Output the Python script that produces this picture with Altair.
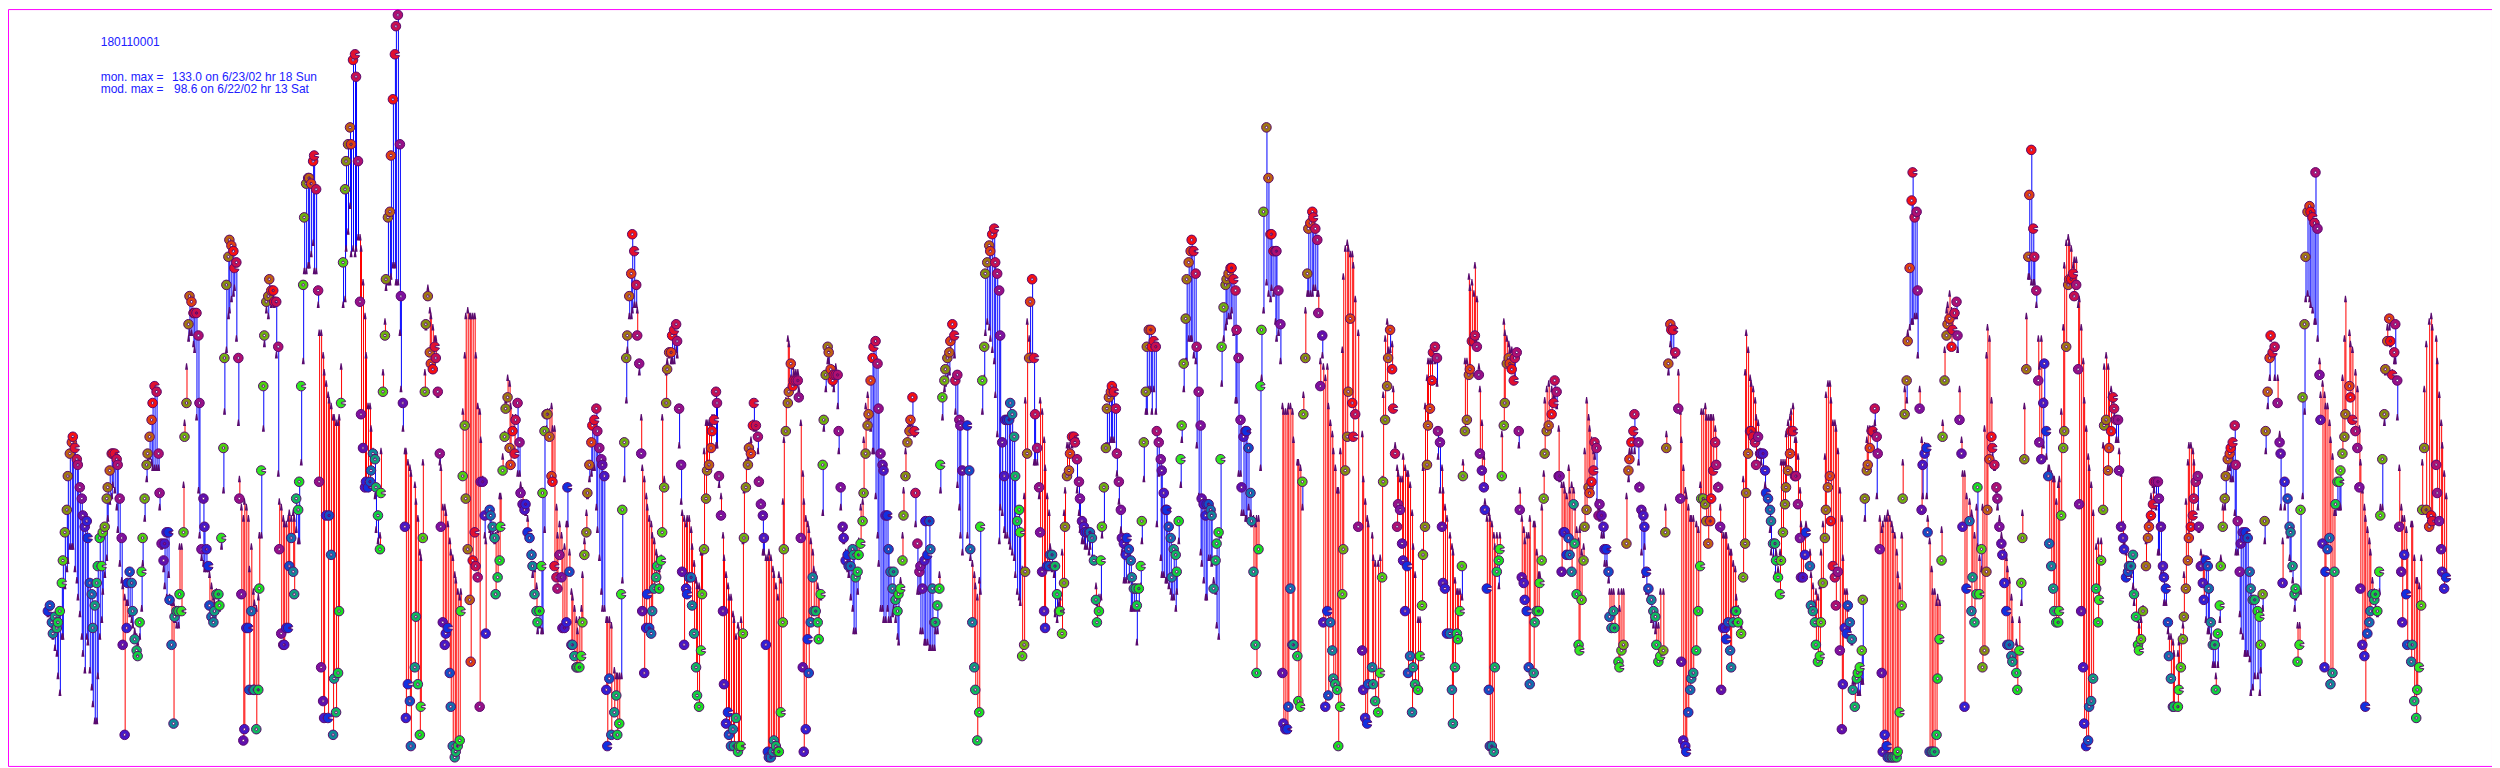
import altair as alt
import pandas as pd

N = None
monitor_by_day = [
[27,28,25,23,26,24,25,27,32,36,41,45,51,55,57,58,56,54,53,49,47,44,42,43],
[40,32,30,24,28,32,35,40,35,41,42,47,49,52,55,55,55,54,53,47,40,21,5,24],
[32,34,32,27,22,20,19,25,34,40,47,53,55,58,61,64,67,66,55,48,39,36,39,41],
[41,29,21,7,26,27,27,30,27,41,58,64,78,83,82,80,80,80,76,64,38,47,42,38],
[35,28,26,25,27,30,30,28,40,56,72,85,90,93,92,91,88,89,72,47,30,4,6,24],
[24,13,27,13,13,6,13,31,52,67,76,82,83,86,84,84,82,82,74,38,23,21,21,24],
[24,35,40,34,30,47,45,50,67,85,97,103,104,104,103,107,108,102,84,50,17,11,8,44],
[8,44,37,5,15,9,16,27,64,89,102,107,110,113,110,125,126,122,107,82,62,56,49,50],
[49,50,52,55,54,49,44,38,48,66,76,86,97,98,108,118,126,131,133,110,83,64,42,8],
[14,11,3,N,17,26,14,5,10,40,66,78,83,73,71,70,74,72,66,55,42,25,21,23],
[24,16,10,3,1,2,3,4,27,51,60,47,38,29,18,36,41,35,33,10,50,50,44,23],
[N,45,44,42,40,30,33,36,42,52,58,63,65,56,53,59,55,61,64,57,48,46,45,46],
[41,40,37,35,30,27,25,27,35,48,59,62,62,58,51,50,35,33,31,37,33,24,24,25],
[49,34,21,21,19,17,17,17,19,25,37,41,48,53,57,60,61,63,59,56,54,53,51,13],
[3,15,5,N,9,12,5,7,30,45,57,72,76,83,87,94,91,85,76,71,55,27,16,24],
[30,24,23,27,31,33,35,31,36,41,49,64,70,73,73,76,77,78,75,63,53,34,21,31],
[30,33,33,28,23,17,12,10,20,30,38,47,52,53,56,59,61,66,64,51,44,27,14,7],
[9,5,3,6,3,8,2,3,3,23,40,49,53,56,55,60,64,60,58,50,46,44,40,21],
[2,1,1,2,4,3,2,2,9,25,38,59,64,66,71,67,68,68,68,65,40,17,2,6],
[22,16,25,33,27,27,25,22,30,53,61,69,74,73,70,68,69,69,69,59,49,42,40,36],
[37,35,35,38,37,33,34,37,39,43,48,55,60,62,68,72,74,75,71,63,55,53,52,44],
[44,38,34,31,34,29,27,30,31,36,44,51,57,59,61,65,59,48,39,34,35,31,36,43],
[37,43,38,31,25,25,28,31,53,65,68,70,72,73,75,78,76,68,69,61,60,52,N,N],
[60,52,38,25,17,13,4,9,42,68,74,87,89,92,91,94,95,89,87,84,76,57,51,61],
[61,61,64,62,58,51,43,45,41,19,21,34,55,72,82,86,72,62,56,49,41,34,27,24],
[35,35,37,37,35,35,30,27,27,23,32,42,51,52,55,58,58,57,54,50,47,43,42,41],
[41,41,41,40,36,29,25,27,36,42,49,56,63,65,66,67,66,63,55,50,45,40,39,37],
[40,38,36,33,31,31,28,31,35,43,57,66,74,77,77,74,75,74,59,57,54,52,48,45],
[45,42,40,33,38,37,34,43,54,60,71,79,86,89,91,93,91,87,74,66,60,47,46,44],
[46,46,45,44,31,36,39,41,54,74,81,85,86,87,88,88,86,84,77,72,61,49,58,59],
[59,56,48,43,34,21,16,38,67,77,98,N,113,104,94,94,91,91,91,84,78,16,7,6],
[6,10,31,21,21,N,19,11,10,50,62,72,87,95,96,98,97,95,93,80,67,76,25,10],
[27,12,25,20,15,14,13,3,10,30,38,52,58,66,79,64,58,62,N,42,N,20,13,8],
[7,14,N,17,14,11,N,9,16,33,50,61,67,72,77,70,63,55,42,46,45,39,36,27],
[35,16,19,9,17,14,N,13,19,28,37,42,53,60,63,68,73,74,72,59,57,42,32,31],
[23,N,23,13,7,17,23,22,27,35,51,59,61,69,70,75,75,76,74,69,55,52,49,45],
[31,13,3,3,2,17,34,36,38,51,60,64,71,72,71,70,68,72,73,59,45,33,32,29],
[27,17,14,N,16,25,27,27,32,36,47,55,59,60,N,62,64,68,66,51,51,34,41,41],
[37,40,37,34,46,39,30,21,20,29,36,42,45,49,48,50,52,57,56,44,46,44,42,38],
[38,34,26,24,27,24,N,18,17,20,21,N,39,52,54,57,59,62,N,57,49,45,44,42],
[34,31,N,29,27,26,21,18,19,N,20,41,56,71,78,77,77,73,N,63,47,18,4,3],
[2,9,13,15,16,N,20,27,35,47,47,46,43,39,43,47,52,57,53,49,42,13,24,24],
[22,25,20,17,25,27,27,25,N,23,33,39,48,55,59,59,58,57,53,58,55,55,55,52],
[48,47,45,43,39,39,36,33,30,36,41,46,49,52,55,59,59,51,51,46,40,33,33,37],
[41,N,35,28,27,25,21,18,19,25,32,40,45,49,51,43,35,33,28,34,20,6,14,24],
[23,28,25,22,13,10,15,16,17,20,29,47,52,53,56,59,59,63,58,55,38,16,2,5],
[3,1,1,1,1,1,1,2,9,28,47,62,68,75,88,100,105,97,98,84,63,45,53,55],
[56,41,2,2,2,2,5,15,22,36,58,68,76,78,79,74,77,80,82,76,61,55,42,10],
[31,N,43,27,33,25,30,49,30,38,17,20,34,45,54,58,56,53,49,47,42,39,37,32],
[27,21,21,19,18,N,16,13,20,32,40,54,70,90,101,109,95,90,84,68,57,54,64,71],
[59,51,39,35,31,27,25,25,27,44,56,59,74,85,86,86,87,83,85,70,46,27,17,7],
[3,4,10,11,15,N,31,25,29,36,45,60,61,52,56,59,65,63,61,61,52,42,40,38],
[33,34,35,35,37,30,26,21,20,22,27,N,35,40,42,44,46,50,50,50,47,42,35,33],
[31,25,19,15,10,10,N,10,13,17,22,26,31,36,40,42,44,47,50,51,42,35,32,29],
[36,35,31,25,21,21,13,23,28,35,42,47,51,54,55,56,57,60,53,43,34,39,41,40],
[41,40,34,31,29,29,N,27,26,21,30,43,59,66,72,76,73,74,N,64,57,55,32,50],
[N,47,42,41,35,30,31,18,21,45,65,78,90,98,99,98,97,96,105,95,69,61,39,17],
[34,38,40,14,16,34,46,50,50,52,55,58,62,N,67,65,61,N,59,56,49,31,21,19],
[10,23,25,27,30,29,30,27,34,44,54,62,70,75,79,75,69,73,78,68,42,34,25,37],
[30,21,N,18,21,11,8,13,17,28,45,56,45,N,42,44,43,N,53,48,43,38,34,31],
[33],
]
model_by_day = [
[26,27,24,22,20,19,15,12,22,22,31,34,35.5,38,38,38,34,32,29,26,22,19,16,22],
[21,16,13,10,7,7,15,22,25,30,33,36,43,46,47,49,48,45,41,35,32,31,29,28],
[28,26,25,24,23,22,21,22,27,35,43,50,53,54,53,52,52,52,52,45,38,34,31,29],
[33,29,28,28,25,24,24,38,38,49,60,70,75,76,76,74,73,61,48,40,36,35,34,34],
[34,33,31,29,28,30,28,27,38,48,62,73,79,80,82,83,84,75,60,50,45,43,46,45],
[43,34,38,30,28,27,29,40,40,59,74,80,79,82,81,82,81,72,51,46,45,43,42,42],
[43,44,43,44,43,41,39,39,53,71,87,87,88,88,90,92,87,87,81,76,76,72,69,67],
[65,64,63,61,61,60,60,61,70,81,82,91,94,98.6,90,91,90,91,93,93,91,85,79,72],
[63,63,59,55,47,41,39,40,55,69,78,84,85,85,86,88,88,85,85,76,66,59,55,55],
[53,52,51,N,49,46,43,37,36,53,69,77,84,80,79,77,75,75,65,53,52,45,45,44],
[42,39,37,36,33,32,30,29,30,62,72,79,80,79,79,79,79,72,63,62,57,50,40,39],
[N,41,40,40,39,40,41,47,47,54,58,64,68,67,63,61,59,61,51,51,49,48,45,44],
[43,40,37,33,34,31,23,24,23,23,41,59,62,62,63,59,59,45,40,42,40,37,38,42],
[42,37,30,29,27,25,23,25,27,33,39,44,47,50,51,52,52,45,41,36,30,27,27,25],
[25,25,24,N,16,15,15,15,15,32,50,64,73,79,79,80,81,81,80,69,61,52,50,47],
[45,43,42,40,39,37,36,34,36,61,50,69,71,72,71,71,71,73,72,56,46,44,43,42],
[43,43,41,38,35,32,31,31,37,37,55,60,60,60,60,61,61,56,56,49,47,40,36,33],
[31,29,29,26,25,22,24,23,25,39,48,53,54,56,57,60,59,59,55,50,46,37,37,36],
[36,37,36,34,33,31,29,33,32,46,57,64,75,74,68,70,69,69,69,66,60,51,46,43],
[42,41,39,37,34,33,31,30,29,44,59,66,71,71,68,67,66,70,63,55,45,40,39,37],
[34,33,29,27,23,23,30,39,45,46,57,63,65,61,59,55,55,47,40,35,27,27,25,25],
[27,25,25,26,27,25,22,21,32,40,48,55,59,60,60,59,58,42,30,30,23,23,21,21],
[21,20,20,20,20,23,23,33,48,61,66,67,68,69,73,76,72,62,49,45,40,37,N,N],
[40,38,36,35,33,31,29,32,30,62,68,76,78,77,75,73,71,65,58,39,45,44,41,40],
[40,39,38,37,36,33,30,29,28,34,47,64,78,75,72,72,53,53,53,47,64,62,57,52],
[47,44,38,34,33,26,25,28,29,37,44,48,56,56,55,56,57,57,48,44,41,39,39,38],
[38,37,38,36,36,31,28,29,29,40,42,56,56,56,57,57,57,55,51,46,41,37,32,32],
[37,32,27,27,27,27,21,27,31,39,50,62,62,66,66,62,66,62,42,51,36,33,33,32],
[32,31,30,29,29,27,30,39,49,57,66,71,71,75,75,75,72,71,56,47,37,35,32,29],
[29,36,36,35,32,30,24,22,40,67,75,77,78,79,79,80,76,64,64,51,51,44,44,43],
[43,45,44,42,43,42,43,43,52,68,80,N,85,83,82,84,83,78,75,76,71,63,62,62],
[62,63,63,62,57,N,53,53,52,45,65,80,83,83,83,83,84,84,83,83,71,72,70,68],
[70,63,60,58,55,52,48,48,55,73,86,91,92,91,90,90,88,82,N,76,N,58,50,46],
[43,42,N,40,36,35,N,35,36,50,65,75,78,73,73,74,66,56,52,51,50,50,54,52],
[51,51,49,44,38,33,N,25,25,37,52,63,68,71,71,71,73,71,67,54,48,52,48,45],
[43,N,40,38,37,32,30,30,30,29,53,71,71,86,84,85,83,88,82,70,66,60,54,46],
[43,44,43,42,40,38,40,31,40,58,78,76,75,74,73,73,72,68,72,56,48,43,41,39],
[40,40,43,N,42,42,37,33,33,45,51,64,66,67,N,66,65,64,63,59,50,49,49,48],
[47,52,48,49,48,45,41,39,41,37,38,55,64,61,59,57,55,54,46,45,43,40,40,35],
[35,32,30,30,30,27,N,30,27,30,30,N,47,50,55,55,57,55,N,53,49,37,33,38],
[30,29,N,25,24,23,24,24,30,N,30,45,58,69,74,73,72,72,N,69,62,57,52,48],
[47,45,43,43,43,N,42,41,49,62,62,63,61,61,61,61,61,59,57,49,45,41,40,40],
[40,38,37,37,35,34,29,27,N,24,50,69,76,73,68,67,66,64,61,60,55,53,52,49],
[48,45,41,37,36,33,37,34,37,53,53,53,58,60,61,62,63,57,57,54,48,42,40,40],
[42,N,37,33,31,28,30,29,31,37,42,54,65,67,67,64,60,60,59,55,48,43,36,30],
[30,27,23,21,14,14,15,12,12,14,14,43,57,59,59,58,59,60,47,55,43,41,42,43],
[43,44,43,42,41,40,37,33,31,40,53,66,64,76,77,78,78,79,79,72,66,57,47,56],
[47,43,39,34,30,30,28,29,28,41,60,73,80,81,83,80,79,79,79,73,66,57,51,51],
[47,N,46,44,43,40,45,38,36,34,45,59,72,77,75,64,54,52,48,45,43,40,39,37],
[36,34,32,29,25,N,21,20,25,28,44,63,79,86,86,85,85,85,81,75,70,75,56,64],
[54,52,52,51,50,50,46,49,50,62,77,88,92,93,92,91,88,89,89,81,82,77,71,64],
[59,54,52,49,44,N,38,39,36,39,56,70,72,70,65,66,64,61,57,57,55,51,42,39],
[37,33,33,33,31,28,30,25,24,25,27,N,39,42,43,47,49,48,45,37,37,33,33,28],
[28,23,22,22,21,19,N,19,21,22,24,33,46,53,56,56,55,53,50,45,41,37,36,36],
[25,23,23,22,17,17,15,17,25,36,45,45,47,52,52,50,50,44,37,37,26,23,22,19],
[19,19,18,12,13,15,N,15,12,16,27,39,55,63,68,75,72,68,N,68,58,45,39,45],
[N,40,36,34,32,27,29,24,24,30,47,62,82,83,82,81,80,78,78,75,71,65,67,65],
[63,63,60,57,54,44,44,45,45,45,68,75,82,N,76,74,73,N,69,66,59,53,48,45],
[43,41,39,37,32,30,27,26,30,45,45,60,69,77,77,74,69,71,71,61,52,45,43,43],
[41,37,N,42,42,36,32,32,31,36,53,66,74,N,78,79,77,N,75,71,65,60,56,51],
[47],
]
hour_colors = ["#1030e0","#1050c8","#1070b0","#108898","#10a080","#10b860","#10d040","#18e020",
               "#30e820","#50d010","#70b010","#859010","#a07810","#c06010","#e04010","#f81010",
               "#e01030","#c81050","#b01070","#981088","#8010a0","#6010b0","#4818c8","#3020d8"]
title_lines = ["180110001"]
max_labels = ["mon. max =", "mod. max ="]
max_values = ["133.0 on 6/23/02 hr 18 Sun", "98.6 on 6/22/02 hr 13 Sat"]

rows = []
for d, (mon_day, mod_day) in enumerate(zip(monitor_by_day, model_by_day)):
    for h, (mon, mod) in enumerate(zip(mon_day, mod_day)):
        if mon is None:
            continue
        if mod is None:
            mod = mon
        rows.append({"i": 24 * d + h, "hour": h, "mon": mon, "mod": mod,
                     "notch": int(h % 8 == 0),
                     "dir": "over" if mod > mon else "under"})
df = pd.DataFrame(rows)

xscale = alt.Scale(domain=[-24.14, 1467.8], nice=False, zero=False, round=True)
yscale = alt.Scale(domain=[-0.53, 134.04], nice=False, zero=False)
x = alt.X("i:Q", axis=None, scale=xscale)
y = alt.Y("mon:Q", axis=None, scale=yscale)

DARK = "#5a0a6e"
DISC = "M1,0 A1,1 0 1,1 -1,0 A1,1 0 1,1 1,0 Z M0.26,0 A0.26,0.26 0 1,0 -0.26,0 A0.26,0.26 0 1,0 0.26,0 Z"
PAC = "M0.96,-0.28 A1,1 0 1,0 0.96,0.28 L0.1,0.14 L0.1,-0.14 Z"
TICK = "M-0.35,0.15 L0.4,0.15 L0.14,-1.5 L-0.12,-1.5 Z"

base = alt.Chart(df)
rules = base.mark_rule(strokeWidth=1, xOffset=0.5).encode(
    x=x, y=y, y2=alt.Y2("mod:Q"),
    color=alt.Color("dir:N", legend=None,
                    scale=alt.Scale(domain=["over", "under"], range=["#ff0000", "#0000ff"])),
)
ticks = base.mark_point(filled=True, shape=TICK, size=64, color=DARK, opacity=1, strokeWidth=0).encode(
    x=x, y=alt.Y("mod:Q", axis=None, scale=yscale),
)
under = base.mark_point(filled=True, shape="circle", size=70, color="white", opacity=1, strokeWidth=0).encode(x=x, y=y)
points = base.mark_point(filled=True, stroke=DARK, strokeWidth=1, size=92, opacity=1).encode(
    x=x, y=y,
    fill=alt.Fill("hour:O", legend=None,
                  scale=alt.Scale(domain=list(range(24)), range=hour_colors)),
    shape=alt.Shape("notch:O", legend=None, scale=alt.Scale(domain=[0, 1], range=[DISC, PAC])),
)

def label(text, px, py):
    return alt.Chart(pd.DataFrame({"t": [text]})).mark_text(
        font="Liberation Sans", fontSize=12, color="#2020ff", align="left", baseline="middle",
    ).encode(x=alt.value(px), y=alt.value(py), text="t:N")

texts = [
    label(title_lines[0], 93, 33),
    label(max_labels[0], 93, 68),
    label(max_values[0], 164.5, 68),
    label(max_labels[1], 93, 80),
    label(max_values[1], 166.5, 80),
]

chart = alt.layer(rules, ticks, under, points, *texts).properties(
    width=2491, height=759, padding=0, autosize=alt.AutoSizeParams(type="none"),
    background="white",
).configure_view(stroke="#ff00ff", strokeWidth=1)

chart.save("out.html", embed_options={"renderer": "svg", "actions": False})
